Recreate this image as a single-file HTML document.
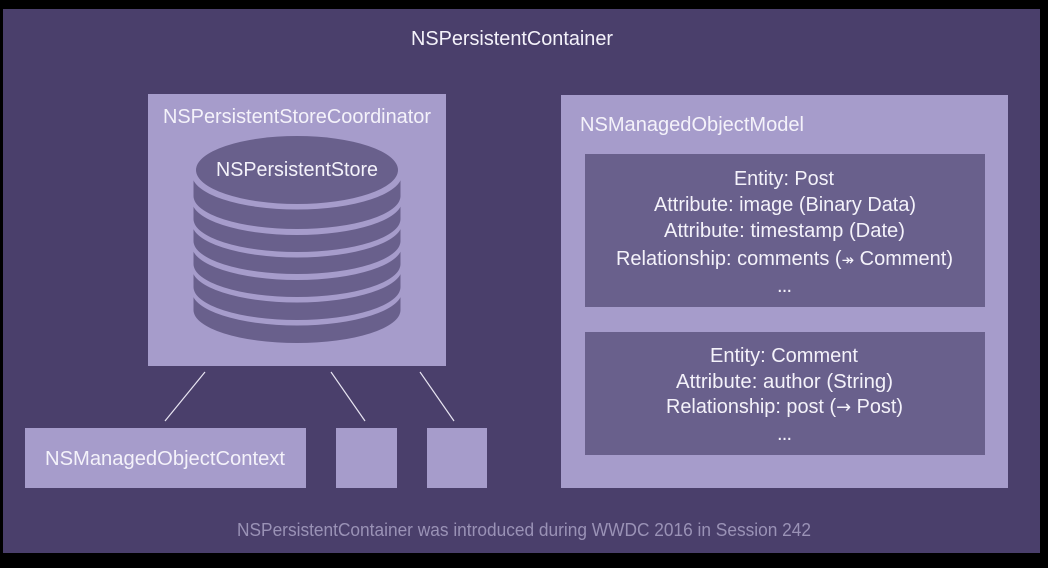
<!DOCTYPE html>
<html>
<head>
<meta charset="utf-8">
<style>
html,body{margin:0;padding:0;background:#000;width:1048px;height:568px;overflow:hidden}
svg{display:block;filter:blur(0.35px)}
text{font-family:"Liberation Sans","DejaVu Sans",sans-serif;font-size:20px;fill:#f4f2fa}
.arw{font-family:"DejaVu Sans",sans-serif}
</style>
</head>
<body>
<svg width="1048" height="568" viewBox="0 0 1048 568" xmlns="http://www.w3.org/2000/svg">
<rect x="0" y="0" width="1048" height="568" fill="#000"/>
<rect x="3" y="9" width="1037" height="544" fill="#4a3f6b"/>
<text x="411" y="45" textLength="202" lengthAdjust="spacingAndGlyphs">NSPersistentContainer</text>

<rect x="148" y="94" width="298" height="272" fill="#a69ccb"/>
<text x="163" y="123" textLength="268" lengthAdjust="spacingAndGlyphs">NSPersistentStoreCoordinator</text>

<g fill="#69608c">
<path d="M193.500 292V310A103.500 33 0 0 0 400.500 310V292Z"/>
<ellipse cx="297" cy="291.500" rx="105" ry="34" fill="#a69ccb"/>
<path d="M193.500 269V287A103.500 33 0 0 0 400.500 287V269Z"/>
<ellipse cx="297" cy="268.500" rx="105" ry="34" fill="#a69ccb"/>
<path d="M193.500 246V264A103.500 33 0 0 0 400.500 264V246Z"/>
<ellipse cx="297" cy="246" rx="105" ry="34" fill="#a69ccb"/>
<path d="M193.500 224V241A103.500 33 0 0 0 400.500 241V224Z"/>
<ellipse cx="297" cy="223.500" rx="105" ry="34" fill="#a69ccb"/>
<path d="M193.500 201V219A103.500 33 0 0 0 400.500 219V201Z"/>
<ellipse cx="297" cy="201" rx="105" ry="34" fill="#a69ccb"/>
<path d="M193.500 175V196A103.500 33 0 0 0 400.500 196V175Z"/>
<ellipse cx="297" cy="174.500" rx="105" ry="35" fill="#a69ccb"/>
<ellipse cx="297" cy="170" rx="101" ry="34"/>
</g>
<text x="216" y="176" textLength="162" lengthAdjust="spacingAndGlyphs">NSPersistentStore</text>

<rect x="561" y="95" width="447" height="393" fill="#a69ccb"/>
<text x="580" y="131" textLength="224" lengthAdjust="spacingAndGlyphs">NSManagedObjectModel</text>

<rect x="585" y="154" width="400" height="153" fill="#69608c"/>
<text x="734" y="185" textLength="100" lengthAdjust="spacingAndGlyphs">Entity: Post</text>
<text x="654" y="211" textLength="262" lengthAdjust="spacingAndGlyphs">Attribute: image (Binary Data)</text>
<text x="664" y="237" textLength="241" lengthAdjust="spacingAndGlyphs">Attribute: timestamp (Date)</text>
<text x="616" y="265" textLength="337" lengthAdjust="spacingAndGlyphs">Relationship: comments (<tspan class="arw" style="font-size:15px">↠</tspan> Comment)</text>
<text x="777" y="292" textLength="15" lengthAdjust="spacing">...</text>

<rect x="585" y="332" width="400" height="123" fill="#69608c"/>
<text x="710" y="362" textLength="148" lengthAdjust="spacingAndGlyphs">Entity: Comment</text>
<text x="676" y="388" textLength="217" lengthAdjust="spacingAndGlyphs">Attribute: author (String)</text>
<text x="666" y="413" textLength="237" lengthAdjust="spacingAndGlyphs">Relationship: post (<tspan class="arw" style="font-size:18px">→</tspan> Post)</text>
<text x="777" y="440" textLength="15" lengthAdjust="spacing">...</text>

<g stroke="#e8e5f2" stroke-width="1.200" fill="none">
<line x1="205" y1="372" x2="165" y2="421"/>
<line x1="331" y1="372" x2="365" y2="421"/>
<line x1="420" y1="372" x2="454" y2="421"/>
</g>

<rect x="25" y="428" width="281" height="60" fill="#a69ccb"/>
<rect x="336" y="428" width="61" height="60" fill="#a69ccb"/>
<rect x="427" y="428" width="60" height="60" fill="#a69ccb"/>
<text x="45" y="465" textLength="240" lengthAdjust="spacingAndGlyphs">NSManagedObjectContext</text>

<text x="237" y="536" textLength="574" lengthAdjust="spacingAndGlyphs" style="font-size:18px;fill:#9a92b6">NSPersistentContainer was introduced during WWDC 2016 in Session 242</text>
</svg>
</body>
</html>
